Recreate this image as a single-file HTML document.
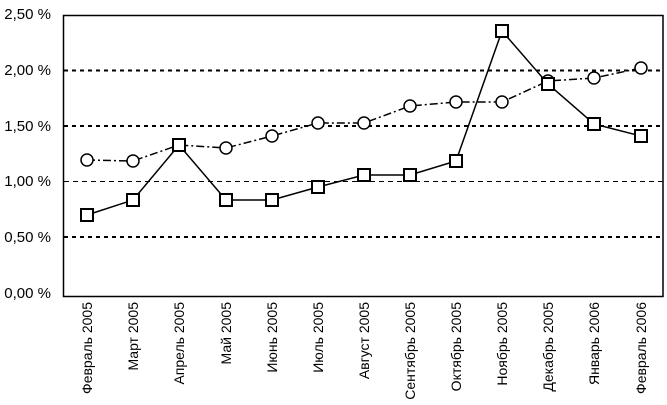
<!DOCTYPE html>
<html><head><meta charset="utf-8"><style>body{margin:0;background:#fff}svg{display:block}</style></head><body>
<svg width="667" height="405" xmlns="http://www.w3.org/2000/svg" font-family="Liberation Sans, sans-serif" font-size="15">
<rect x="0" y="0" width="667" height="405" fill="#fff"/>
<g stroke="#000" stroke-width="2" stroke-dasharray="4,4">
<line x1="64" y1="70.5" x2="663" y2="70.5"/>
<line x1="64" y1="126" x2="663" y2="126"/>
<line x1="64" y1="237" x2="663" y2="237"/>
</g>
<line x1="64" y1="181.5" x2="663" y2="181.5" stroke="#000" stroke-width="1" stroke-dasharray="5,4"/>
<path d="M63.5 15.5H663V296.5H63.5Z" fill="none" stroke="#000" stroke-width="1.5"/>
<g text-anchor="end">
<text x="51" y="19">2,50 %</text><text x="51" y="75">2,00 %</text><text x="51" y="131">1,50 %</text><text x="51" y="186">1,00 %</text><text x="51" y="242">0,50 %</text><text x="51" y="298">0,00 %</text>
</g>
<g fill="none" stroke="#000" stroke-width="1.5" stroke-dasharray="8,3,2,3">
<polyline points="87,160 133,161 179,145 226,148 272,136 318,123 364,123 410,106 456,102 502,102 548,81 594,78 641,68"/>
</g>
<g fill="#fff" stroke="#000" stroke-width="1.5">
<circle cx="87" cy="160" r="6"/><circle cx="133" cy="161" r="6"/><circle cx="179" cy="145" r="6"/><circle cx="226" cy="148" r="6"/><circle cx="272" cy="136" r="6"/><circle cx="318" cy="123" r="6"/><circle cx="364" cy="123" r="6"/><circle cx="410" cy="106" r="6"/><circle cx="456" cy="102" r="6"/><circle cx="502" cy="102" r="6"/><circle cx="548" cy="81" r="6"/><circle cx="594" cy="78" r="6"/><circle cx="641" cy="68" r="6"/>
</g>
<polyline fill="none" stroke="#000" stroke-width="1.5" points="87,215 133,200 179,145 226,200 272,200 318,187 364,175 410,175 456,161 502,31 548,84 594,124 641,136"/>
<g fill="#fff" stroke="#000" stroke-width="2">
<rect x="81" y="209" width="12" height="12"/><rect x="127" y="194" width="12" height="12"/><rect x="173" y="139" width="12" height="12"/><rect x="220" y="194" width="12" height="12"/><rect x="266" y="194" width="12" height="12"/><rect x="312" y="181" width="12" height="12"/><rect x="358" y="169" width="12" height="12"/><rect x="404" y="169" width="12" height="12"/><rect x="450" y="155" width="12" height="12"/><rect x="496" y="25" width="12" height="12"/><rect x="542" y="78" width="12" height="12"/><rect x="588" y="118" width="12" height="12"/><rect x="635" y="130" width="12" height="12"/>
</g>
<g text-anchor="end" font-size="14">
<text transform="translate(92,302) rotate(-90)">Февраль 2005</text>
<text transform="translate(138,302) rotate(-90)">Март 2005</text>
<text transform="translate(184,302) rotate(-90)">Апрель 2005</text>
<text transform="translate(231,302) rotate(-90)">Май 2005</text>
<text transform="translate(277,302) rotate(-90)">Июнь 2005</text>
<text transform="translate(323,302) rotate(-90)">Июль 2005</text>
<text transform="translate(369,302) rotate(-90)">Август 2005</text>
<text transform="translate(415,302) rotate(-90)">Сентябрь 2005</text>
<text transform="translate(461,302) rotate(-90)">Октябрь 2005</text>
<text transform="translate(507,302) rotate(-90)">Ноябрь 2005</text>
<text transform="translate(553,302) rotate(-90)">Декабрь 2005</text>
<text transform="translate(599,302) rotate(-90)">Январь 2006</text>
<text transform="translate(646,302) rotate(-90)">Февраль 2006</text>
</g>
</svg>
</body></html>
